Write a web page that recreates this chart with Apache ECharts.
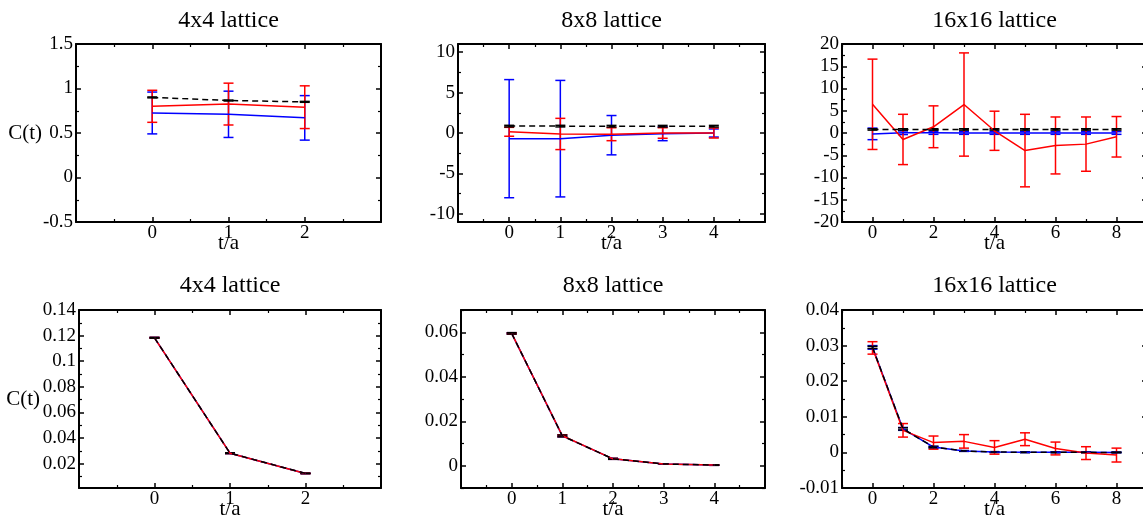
<!DOCTYPE html>
<html><head><meta charset="utf-8">
<script src="https://cdn.jsdelivr.net/npm/echarts@6/dist/echarts.min.js"></script>
<style>html,body{margin:0;padding:0;background:#fff}#c{width:1143px;height:523px}</style>
</head><body><div id="c"></div>
<script>
// ---------------- data ----------------
const titles = ['4x4 lattice', '8x8 lattice', '16x16 lattice', '4x4 lattice', '8x8 lattice', '16x16 lattice'];
const xName = 't/a';
const yName = 'C(t)';

const t4 = [0, 1, 2];
const t8 = [0, 1, 2, 3, 4];
const t16 = [0, 1, 2, 3, 4, 5, 6, 7, 8];

// top row
const top4Blue = [0.725, 0.71, 0.67];
const top4BlueErr = [0.235, 0.26, 0.25];
const top4Red = [0.80, 0.825, 0.79];
const top4RedErr = [0.18, 0.235, 0.24];
const top4Black = [0.90, 0.865, 0.85];
const top4BlackErr = [0.005, 0.005, 0.005];

const top8Blue = [-0.7, -0.7, -0.27, -0.1, 0.0];
const top8BlueErr = [7.3, 7.2, 2.43, 0.85, 0.5];
const top8Red = [0.15, -0.12, -0.15, 0.0, 0.0];
const top8RedErr = [0.55, 1.93, 0.8, 0.65, 0.62];
const top8Black = [0.85, 0.85, 0.84, 0.84, 0.84];
const top8BlackErr = [0.1, 0.1, 0.1, 0.1, 0.1];

const top16Blue = [-0.2, 0.05, 0.05, 0.0, 0.0, 0.0, 0.0, 0.0, 0.0];
const top16BlueErr = [1.3, 0.4, 0.35, 0.3, 0.3, 0.3, 0.3, 0.3, 0.3];
const top16Red = [6.45, -1.45, 1.4, 6.4, 0.5, -3.95, -2.8, -2.5, -0.85];
const top16RedErr = [10.15, 5.65, 4.7, 11.6, 4.4, 8.15, 6.4, 6.1, 4.55];
const top16Black = [0.8, 0.8, 0.8, 0.8, 0.8, 0.8, 0.8, 0.8, 0.8];
const top16BlackErr = [0.15, 0.15, 0.15, 0.15, 0.15, 0.15, 0.15, 0.15, 0.15];

// bottom row
const bot4Blue = [0.1183, 0.0282, 0.0124];
const bot4BlueErr = [0.0003, 0.0003, 0.0002];
const bot4Red = [0.1183, 0.0282, 0.0124];
const bot4RedErr = [0.0003, 0.0003, 0.0002];
const bot4Black = [0.1183, 0.0282, 0.0124];
const bot4BlackErr = [0.0003, 0.0003, 0.0002];

const bot8Blue = [0.0595, 0.0134, 0.0031, 0.0008, 0.0003];
const bot8BlueErr = [0.0003, 0.0004, 0.0002, 0.0001, 0.0001];
const bot8Red = [0.0595, 0.0135, 0.0031, 0.0008, 0.0003];
const bot8RedErr = [0.0003, 0.0004, 0.0002, 0.0001, 0.0001];
const bot8Black = [0.0595, 0.0134, 0.0031, 0.0008, 0.0003];
const bot8BlackErr = [0.0003, 0.0004, 0.0002, 0.0001, 0.0001];

const bot16Blue = [0.0295, 0.0066, 0.0015, 0.0004, 0.0001, 0.00005, 0.00002, 0.00001, 0.0];
const bot16BlueErr = [0.0005, 0.0004, 0.0002, 0.0001, 0.0001, 0.0001, 0.0001, 0.0001, 0.0001];
const bot16Red = [0.02935, 0.0062, 0.00275, 0.0031, 0.0014, 0.0037, 0.0011, -0.0002, -0.00075];
const bot16RedErr = [0.00175, 0.0019, 0.00185, 0.0019, 0.0019, 0.0018, 0.0018, 0.0018, 0.00195];
const bot16Black = [0.0295, 0.0066, 0.0015, 0.0004, 0.0001, 0.00005, 0.00002, 0.00001, 0.0];
const bot16BlackErr = [0.0003, 0.0003, 0.0002, 0.0001, 0.0001, 0.0001, 0.0001, 0.0001, 0.0001];

// tick labels
const xLabels4 = [0, 1, 2];
const xLabels8 = [0, 1, 2, 3, 4];
const xLabels16 = [0, 2, 4, 6, 8];
const yLabelsTop4 = [-0.5, 0, 0.5, 1, 1.5];
const yLabelsTop8 = [-10, -5, 0, 5, 10];
const yLabelsTop16 = [-20, -15, -10, -5, 0, 5, 10, 15, 20];
const yLabelsBot4 = [0.02, 0.04, 0.06, 0.08, 0.1, 0.12, 0.14];
const yLabelsBot8 = [0, 0.02, 0.04, 0.06];
const yLabelsBot16 = [-0.01, 0, 0.01, 0.02, 0.03, 0.04];

// ---------------- helpers ----------------
function steps(a, b, s) {
  const out = [];
  const n = Math.round((b - a) / s);
  for (let i = 0; i <= n; i++) out.push(+(a + i * s).toFixed(6));
  return out;
}
const FONT = '"Liberation Serif", "Times New Roman", serif';
const BLUE = '#0000ff', RED = '#ff0000', BLACK = '#000000';

const panels = [
  { rect: { left: 76, top: 44, width: 305, height: 178 }, titleTop: 9,
    x: { min: -1, max: 3, major: steps(-1, 3, 1), minor: steps(-0.5, 2.5, 1), labels: xLabels4 },
    y: { min: -0.5, max: 1.5, major: yLabelsTop4, minor: steps(-0.25, 1.25, 0.5), labels: yLabelsTop4 },
    yName: true, yNameGap: 34,
    series: [[t4, top4Blue, top4BlueErr, BLUE, 'solid'], [t4, top4Red, top4RedErr, RED, 'solid'], [t4, top4Black, top4BlackErr, BLACK, 'dashed']] },
  { rect: { left: 458, top: 44, width: 307, height: 178 }, titleTop: 9,
    x: { min: -1, max: 5, major: steps(-1, 5, 1), minor: steps(-0.5, 4.5, 1), labels: xLabels8 },
    y: { min: -11, max: 11, major: yLabelsTop8, minor: steps(-7.5, 7.5, 5), labels: yLabelsTop8 },
    series: [[t8, top8Blue, top8BlueErr, BLUE, 'solid'], [t8, top8Red, top8RedErr, RED, 'solid'], [t8, top8Black, top8BlackErr, BLACK, 'dashed']] },
  { rect: { left: 842, top: 44, width: 305, height: 178 }, titleTop: 9,
    x: { min: -1, max: 9, major: xLabels16, minor: steps(-1, 9, 2), labels: xLabels16 },
    y: { min: -20, max: 20, major: yLabelsTop16, minor: steps(-17.5, 17.5, 5), labels: yLabelsTop16 },
    series: [[t16, top16Blue, top16BlueErr, BLUE, 'solid'], [t16, top16Red, top16RedErr, RED, 'solid'], [t16, top16Black, top16BlackErr, BLACK, 'dashed']] },
  { rect: { left: 79, top: 310, width: 302, height: 178 }, titleTop: 274,
    x: { min: -1, max: 3, major: steps(-1, 3, 1), minor: steps(-0.5, 2.5, 1), labels: xLabels4 },
    y: { min: 0.001, max: 0.14, major: yLabelsBot4, minor: steps(0.01, 0.13, 0.02), labels: yLabelsBot4 },
    yName: true, yNameGap: 39,
    series: [[t4, bot4Blue, bot4BlueErr, BLUE, 'solid'], [t4, bot4Red, bot4RedErr, RED, 'solid'], [t4, bot4Black, bot4BlackErr, BLACK, 'dashed']] },
  { rect: { left: 461, top: 310, width: 304, height: 178 }, titleTop: 274,
    x: { min: -1, max: 5, major: steps(-1, 5, 1), minor: steps(-0.5, 4.5, 1), labels: xLabels8 },
    y: { min: -0.01, max: 0.07, major: yLabelsBot8, minor: steps(-0.01, 0.07, 0.02), labels: yLabelsBot8 },
    series: [[t8, bot8Blue, bot8BlueErr, BLUE, 'solid'], [t8, bot8Red, bot8RedErr, RED, 'solid'], [t8, bot8Black, bot8BlackErr, BLACK, 'dashed']] },
  { rect: { left: 842, top: 310, width: 305, height: 178 }, titleTop: 274,
    x: { min: -1, max: 9, major: xLabels16, minor: steps(-1, 9, 2), labels: xLabels16 },
    y: { min: -0.01, max: 0.04, major: yLabelsBot16, minor: steps(-0.005, 0.035, 0.01), labels: yLabelsBot16 },
    series: [[t16, bot16Blue, bot16BlueErr, BLUE, 'solid'], [t16, bot16Red, bot16RedErr, RED, 'solid'], [t16, bot16Black, bot16BlackErr, BLACK, 'dashed']] }
];

function errRender(color) {
  return function (params, api) {
    const x = api.value(0), y = api.value(1), e = api.value(2);
    const hi = api.coord([x, y + e]);
    const lo = api.coord([x, y - e]);
    const hw = 5;
    const style = { stroke: color, lineWidth: 1.5, fill: null };
    return { type: 'group', children: [
      { type: 'line', shape: { x1: hi[0], y1: hi[1], x2: lo[0], y2: lo[1] }, style: style },
      { type: 'line', shape: { x1: hi[0] - hw, y1: hi[1], x2: hi[0] + hw, y2: hi[1] }, style: style },
      { type: 'line', shape: { x1: lo[0] - hw, y1: lo[1], x2: lo[0] + hw, y2: lo[1] }, style: style }
    ] };
  };
}

const grid = [], xAxis = [], yAxis = [], series = [], title = [];

function axisSet(dim, gi, spec, extra) {
  const list = [];
  const sides = dim === 'x' ? ['bottom', 'top'] : ['left', 'right'];
  sides.forEach(function (pos, si) {
    list.push(Object.assign({
      type: 'value', gridIndex: gi, position: pos, min: spec.min, max: spec.max,
      axisLine: { show: true, onZero: false, lineStyle: { color: '#000', width: 2 } },
      axisTick: { show: true, inside: true, length: 5, customValues: spec.major, lineStyle: { color: '#000', width: 1.5 } },
      axisLabel: si === 0 ? { show: true, customValues: spec.labels, color: '#000', fontFamily: FONT, fontSize: 19, margin: dim === 'x' ? 2 : 3, hideOverlap: false } : { show: false },
      splitLine: { show: false }, minorTick: { show: false }
    }, si === 0 ? (extra || {}) : {}));
    list.push({
      type: 'value', gridIndex: gi, position: pos, min: spec.min, max: spec.max,
      axisLine: { show: false, onZero: false },
      axisTick: { show: true, inside: true, length: 3, customValues: spec.minor, lineStyle: { color: '#000', width: 1.2 } },
      axisLabel: { show: false }, splitLine: { show: false }
    });
  });
  return list;
}

panels.forEach(function (p, gi) {
  grid.push(Object.assign({ outerBoundsMode: 'none', containLabel: false }, p.rect));
  title.push({
    text: titles[gi], left: p.rect.left + p.rect.width / 2, top: p.titleTop, textAlign: 'center', padding: 0,
    textStyle: { fontFamily: FONT, fontSize: 24, fontWeight: 'normal', color: '#000' }
  });
  const xs = axisSet('x', gi, p.x, {
    name: xName, nameLocation: 'middle', nameGap: 11, nameMoveOverlap: false,
    nameTextStyle: { fontFamily: FONT, fontSize: 21, color: '#000' }
  });
  const ys = axisSet('y', gi, p.y, p.yName ? {
    name: yName, nameLocation: 'middle', nameRotate: 0, nameGap: p.yNameGap, nameMoveOverlap: false,
    nameTextStyle: { fontFamily: FONT, fontSize: 21, color: '#000' }
  } : {});
  const xi = xAxis.length, yi = yAxis.length;
  xs.forEach(function (a) { xAxis.push(a); });
  ys.forEach(function (a) { yAxis.push(a); });
  p.series.forEach(function (s) {
    const t = s[0], v = s[1], e = s[2], color = s[3], dash = s[4];
    series.push({
      type: 'line', xAxisIndex: xi, yAxisIndex: yi, symbol: 'none', silent: true, animation: false,
      lineStyle: { color: color, width: 1.5, type: dash === 'dashed' ? [6, 4] : 'solid' },
      data: t.map(function (ti, i) { return [ti, v[i]]; })
    });
    series.push({
      type: 'custom', xAxisIndex: xi, yAxisIndex: yi, silent: true, animation: false,
      renderItem: errRender(color), encode: { x: 0, y: 1 },
      data: t.map(function (ti, i) { return [ti, v[i], e[i]]; })
    });
  });
});

const chart = echarts.init(document.getElementById('c'), null, { renderer: 'canvas' });
chart.setOption({
  backgroundColor: '#fff', animation: false,
  title: title, grid: grid, xAxis: xAxis, yAxis: yAxis, series: series
});
</script>
</body></html>
